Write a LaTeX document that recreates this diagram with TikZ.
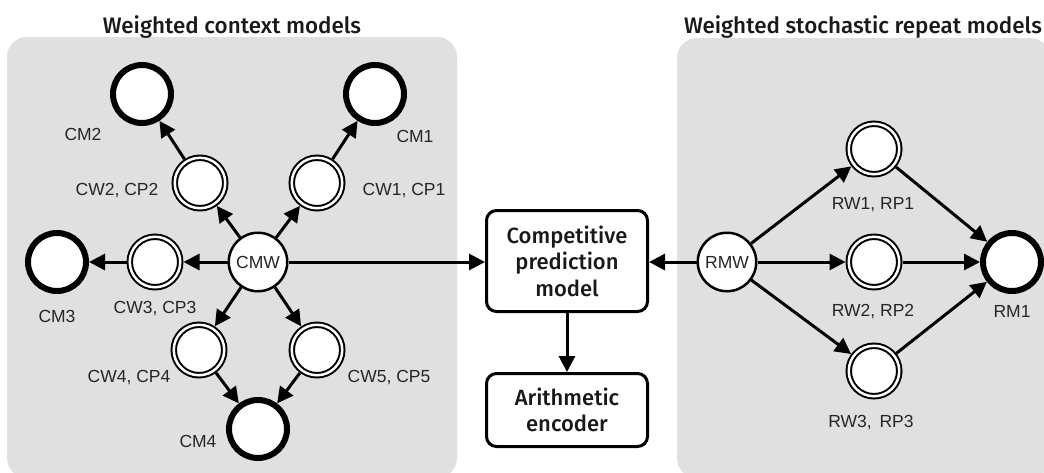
\documentclass[tikz,border=0pt]{standalone}
\usepackage{fontspec}
\setmainfont{Liberation Sans}
\newfontfamily\headfont{Fira Sans}[UprightFont={* Medium}]
\usetikzlibrary{arrows.meta}
\definecolor{panelgray}{RGB}{224,224,224}
\definecolor{labelgray}{RGB}{38,38,38}
\definecolor{headblack}{RGB}{25,25,25}

\begin{document}
\begin{tikzpicture}[x=1pt,y=-1pt,
  panel/.style={fill=panelgray, rounded corners=20pt},
  heading/.style={font=\headfont\fontsize{22.4}{26}\selectfont, anchor=base, text=headblack},
  lbl/.style={font=\fontsize{17.5}{20}\selectfont, anchor=base, text=labelgray},
  model/.style={circle, draw, fill=white, line width=6pt, minimum size=58pt, inner sep=0pt, outer sep=3pt},
  weight/.style={circle, draw, fill=white, line width=2pt, double=white, double distance=2.5pt,
    minimum size=50.5pt, inner sep=0pt, outer sep=3.25pt},
  mixer/.style={circle, draw, fill=white, line width=2.5pt, minimum size=58.5pt, inner sep=0pt,
    outer sep=1.25pt, font=\fontsize{17.5}{20}\selectfont, text=labelgray},
  block/.style={draw, fill=white, line width=3pt, rounded corners=10pt, minimum width=161pt,
    align=center, inner sep=0pt, text=headblack, font=\headfont\fontsize{22}{26.5}\selectfont},
  link/.style={line width=3pt, -{Triangle[length=16pt,width=16pt]}},
]
\useasboundingbox (0,0) rectangle (1044,472);

% background panels
\fill[panel] (7,37) rectangle (457,478);
\fill[panel] (677,38) rectangle (1050,478);

% panel headings
\node[heading] (t1) at (232,33) {Weighted context models};
\node[heading] (t2) at (863,33) {Weighted stochastic repeat models};

% context model mixing
\node[mixer] (cmw) at (258,262) {CMW};
\node[weight] (cw1) at (317,183) {};
\node[weight] (cw2) at (200,183) {};
\node[weight] (cw3) at (155,262) {};
\node[weight] (cw4) at (199,350) {};
\node[weight] (cw5) at (317,350) {};
\node[model] (cm1) at (375,94) {};
\node[model] (cm2) at (142,94) {};
\node[model] (cm3) at (57,262) {};
\node[model] (cm4) at (258,429) {};

\node[lbl] (lcm1) at (415,142) {CM1};
\node[lbl] (lcm2) at (83,140) {CM2};
\node[lbl] (lcm3) at (57,322) {CM3};
\node[lbl] (lcm4) at (198,447) {CM4};
\node[lbl] (lcw1) at (404,195) {CW1, CP1};
\node[lbl] (lcw2) at (117,195) {CW2, CP2};
\node[lbl] (lcw3) at (155,313) {CW3, CP3};
\node[lbl] (lcw4) at (129,382) {CW4, CP4};
\node[lbl] (lcw5) at (389,382) {CW5, CP5};

% central blocks
\node[block, minimum height=101pt] (cpm) at (567,261) {Competitive\\prediction\\model};
\node[block, minimum height=73pt] (enc) at (567,410) {Arithmetic\\encoder};

% repeat model mixing
\node[mixer] (rmw) at (727,262) {RMW};
\node[weight] (rw1) at (874,149) {};
\node[weight] (rw2) at (874,262) {};
\node[weight] (rw3) at (874,371) {};
\node[model] (rm1) at (1012,262) {};

\node[lbl] (lrw1) at (873,209) {RW1, RP1};
\node[lbl] (lrw2) at (873,316) {RW2, RP2};
\node[lbl] (lrw3) at (871,427) {RW3,\, RP3};
\node[lbl] (lrm1) at (1012,317) {RM1};

% connectors
\foreach \w in {cw1,cw2,cw3,cw4,cw5} \draw[link] (cmw) -- (\w);
\draw[link] (cw1) -- (cm1);
\draw[link] (cw2) -- (cm2);
\draw[link] (cw3) -- (cm3);
\draw[link] (cw4) -- (cm4);
\draw[link] (cw5) -- (cm4);
\draw[link] (cmw) -- (cmw -| cpm.west);
\draw[link] (rmw) -- (rmw -| cpm.east);
\draw[link] (cpm) -- (enc);
\foreach \w in {rw1,rw2,rw3} {
  \draw[link] (rmw) -- (\w);
  \draw[link] (\w) -- (rm1);
}
\end{tikzpicture}
\end{document}
